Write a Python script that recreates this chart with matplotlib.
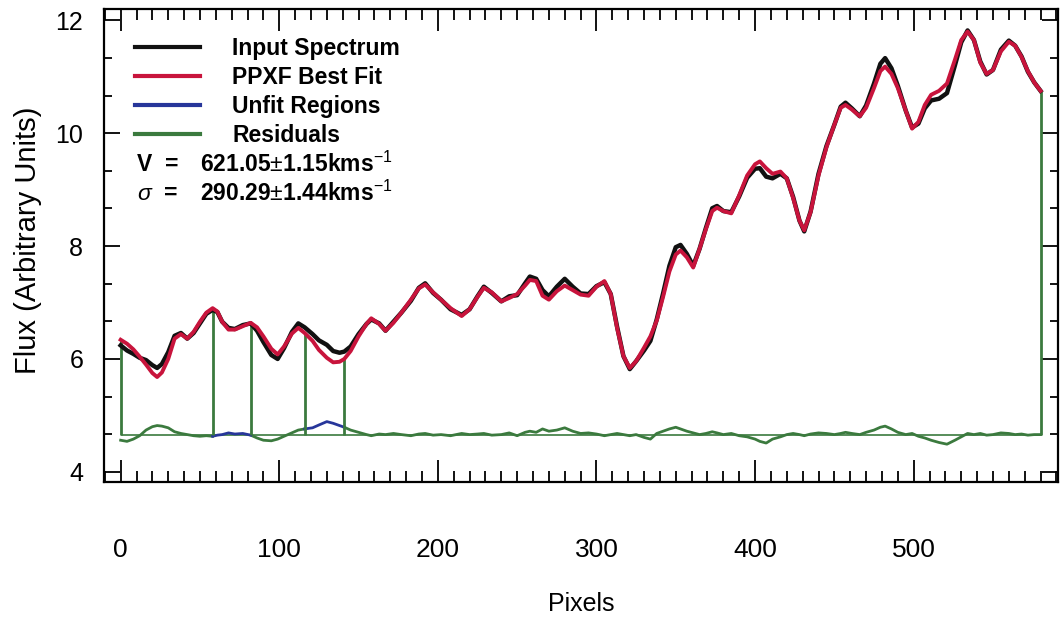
import matplotlib
matplotlib.use('Agg')
import matplotlib.pyplot as plt
from matplotlib.ticker import MultipleLocator
from matplotlib.lines import Line2D
import numpy as np

plt.rcParams['font.family'] = ['Liberation Sans', 'DejaVu Sans']
plt.rcParams['mathtext.fontset'] = 'custom'
plt.rcParams['mathtext.rm'] = 'Liberation Sans'
plt.rcParams['mathtext.it'] = 'Liberation Sans:italic'
plt.rcParams['mathtext.bf'] = 'Liberation Sans:bold'

#%% Datos
pix = [0, 4, 8, 12, 16, 20, 23, 26, 30, 34, 38, 42, 46, 50, 54, 58, 61, 64, 68, 72,
       77, 82, 86, 90, 95, 99, 103, 108, 112, 116, 121, 125, 130, 134, 138, 141, 145,
       150, 155, 158, 163, 167, 172, 177, 183, 188, 192, 197, 202, 208, 215, 220, 225,
       229, 234, 240, 245, 250, 255, 258, 262, 266, 270, 275, 280, 285, 290, 295, 300,
       305, 309, 313, 317, 321, 325, 330, 334, 338, 342, 346, 350, 353, 357, 361, 365,
       369, 373, 376, 380, 385, 390, 395, 400, 403, 407, 411, 416, 420, 424, 428, 431,
       435, 440, 445, 450, 454, 457, 461, 466, 470, 475, 479, 482, 486, 490, 495, 499,
       503, 507, 511, 516, 521, 526, 530, 534, 538, 542, 546, 550, 555, 560, 564, 568,
       572, 576, 580]
best_fit = [6.34, 6.27, 6.17, 6.04, 5.90, 5.75, 5.68, 5.76, 6.00, 6.36, 6.44, 6.36, 6.48,
            6.66, 6.82, 6.90, 6.84, 6.66, 6.52, 6.52, 6.58, 6.64, 6.56, 6.40, 6.18, 6.08,
            6.22, 6.45, 6.55, 6.46, 6.32, 6.16, 6.02, 5.94, 5.95, 6.00, 6.14, 6.40, 6.62,
            6.72, 6.62, 6.50, 6.64, 6.82, 7.05, 7.25, 7.32, 7.18, 7.05, 6.90, 6.76, 6.88,
            7.10, 7.26, 7.18, 7.02, 7.08, 7.15, 7.30, 7.40, 7.38, 7.12, 7.05, 7.20, 7.30,
            7.22, 7.14, 7.12, 7.28, 7.38, 7.15, 6.55, 6.05, 5.84, 5.96, 6.20, 6.40, 6.68,
            7.10, 7.55, 7.85, 7.92, 7.80, 7.62, 7.95, 8.30, 8.62, 8.68, 8.62, 8.58, 8.90,
            9.25, 9.45, 9.50, 9.38, 9.28, 9.32, 9.20, 8.85, 8.45, 8.28, 8.60, 9.25, 9.75,
            10.15, 10.45, 10.50, 10.42, 10.30, 10.45, 10.80, 11.10, 11.18, 11.05, 10.80,
            10.40, 10.08, 10.20, 10.50, 10.68, 10.75, 10.88, 11.30, 11.65, 11.80, 11.65,
            11.25, 11.05, 11.12, 11.45, 11.62, 11.55, 11.35, 11.10, 10.90, 10.75]
# diferencia espectro - ajuste
obs_minus_fit = [-0.10, -0.12, -0.08, -0.02, 0.08, 0.14, 0.16, 0.15, 0.12, 0.05, 0.02, 0.00,
                 -0.02, -0.03, -0.02, -0.03, -0.01, 0.00, 0.03, 0.01, 0.02, -0.01, -0.06,
                 -0.10, -0.11, -0.08, -0.03, 0.03, 0.08, 0.10, 0.12, 0.17, 0.23, 0.20, 0.16,
                 0.13, 0.08, 0.04, 0.00, -0.02, 0.01, 0.00, 0.02, 0.00, -0.02, 0.01, 0.02,
                 -0.01, 0.00, -0.02, 0.02, 0.00, 0.01, 0.02, -0.01, 0.00, 0.03, -0.02, 0.04,
                 0.06, 0.04, 0.10, 0.06, 0.08, 0.12, 0.06, 0.02, 0.03, 0.01, -0.02, 0.00,
                 0.02, 0.00, -0.02, 0.00, -0.05, -0.08, 0.02, 0.06, 0.10, 0.13, 0.10, 0.06,
                 0.03, 0.00, 0.02, 0.05, 0.03, 0.00, 0.02, -0.02, -0.04, -0.08, -0.12, -0.15,
                 -0.08, -0.04, 0.00, 0.02, 0.00, -0.02, 0.01, 0.03, 0.02, 0.00, 0.02, 0.04,
                 0.02, 0.00, 0.04, 0.08, 0.13, 0.15, 0.10, 0.04, 0.00, 0.02, -0.03, -0.06,
                 -0.10, -0.14, -0.17, -0.10, -0.04, 0.02, 0.00, 0.02, -0.01, 0.00, 0.03,
                 0.02, 0.00, 0.01, -0.01, 0.00, 0.00]
unfit_ranges = [(58, 82), (116, 141)]
resid_level = 4.66
vel_text = r'621.05$\pm$1.15kms$^{-1}$'
sig_text = r'290.29$\pm$1.44kms$^{-1}$'

#%% Variables
figsize = (10.61, 6.27)
c_black = '#111111'
c_red = '#c8143c'
c_blue = '#27369a'
c_green = '#3b7a3e'

pix = np.array(pix, dtype=float)
best_fit = np.array(best_fit)
spectrum = best_fit + np.array(obs_minus_fit)
resid = spectrum - best_fit + resid_level

unfit = np.zeros(len(pix), dtype=bool)
for a, b in unfit_ranges:
    unfit |= (pix >= a) & (pix <= b)
fit_ok = ~unfit
for a, b in unfit_ranges:
    fit_ok[(pix == a) | (pix == b)] = True
resid_good = np.where(fit_ok, resid, np.nan)
resid_bad = np.where(unfit, resid, np.nan)

edges = [pix[0]] + [v for r in unfit_ranges for v in r] + [pix[-1]]
edge_top = [best_fit[pix == e][0] for e in edges]

#%%
fig = plt.figure(figsize=figsize, dpi=100)
ax = fig.add_axes([104/1061, 1-482/627, 954/1061, 473/627])

ax.hlines(resid_level, pix[0], pix[-1], color=c_green, lw=1.2, zorder=2)
ax.plot(pix, resid_good, color=c_green, lw=2.0, zorder=3)
ax.plot(pix, resid_bad, color=c_blue, lw=2.0, zorder=3)
ax.vlines(edges, resid_level, edge_top, color=c_green, lw=2.0, zorder=3)
ax.plot(pix, spectrum, color=c_black, lw=3.2, zorder=4)
ax.plot(pix, best_fit, color=c_red, lw=2.8, zorder=5)

ax.set_xlim(-10.5, 591)
ax.set_ylim(3.82, 12.2)

ax.xaxis.set_major_locator(MultipleLocator(100))
ax.xaxis.set_minor_locator(MultipleLocator(10))
ax.yaxis.set_major_locator(MultipleLocator(2))
ax.yaxis.set_minor_locator(MultipleLocator(2/3))
ax.tick_params(axis='x', which='major', direction='in', length=15.5, width=1.3,
               top=True, bottom=True, labelsize=19, pad=40)
ax.tick_params(axis='x', which='minor', direction='in', length=7.8, width=1.3,
               top=True, bottom=True)
ax.tick_params(axis='y', which='major', direction='in', length=11.5, width=1.3,
               left=True, right=True, labelsize=18, pad=15)
ax.tick_params(axis='y', which='minor', direction='in', length=5.8, width=1.3,
               left=True, right=True)
for sp in ax.spines.values():
    sp.set_linewidth(1.6)

ax.set_xlabel('Pixels', fontsize=18)
ax.xaxis.set_label_coords(0.5, (482 - 592) / 473)
ax.set_ylabel('Flux (Arbitrary Units)', fontsize=21)
ax.yaxis.set_label_coords((42 - 104) / 954, 1 - (240 - 9) / 473)

handles = [Line2D([], [], color=c_black, lw=3),
           Line2D([], [], color=c_red, lw=3),
           Line2D([], [], color=c_blue, lw=3),
           Line2D([], [], color=c_green, lw=3)]
labels = ['Input Spectrum', 'PPXF Best Fit', 'Unfit Regions', 'Residuals']
ax.legend(handles, labels, loc='upper left', bbox_to_anchor=(0.0325, 0.94),
          frameon=False, prop={'size': 16.5, 'weight': 'bold'},
          handlelength=2.84, handletextpad=1.4,
          labelspacing=0.25, borderpad=0, borderaxespad=0)

txt = dict(transform=ax.transAxes, fontsize=16.5, fontweight='bold', va='center')
ax.text(0.0346, 0.671, 'V  =', **txt)
ax.text(0.1006, 0.671, vel_text, **txt)
ax.text(0.0346, 0.610, r'$\sigma$  =', **txt)
ax.text(0.1006, 0.610, sig_text, **txt)

fig.savefig('out.png', dpi=100)
